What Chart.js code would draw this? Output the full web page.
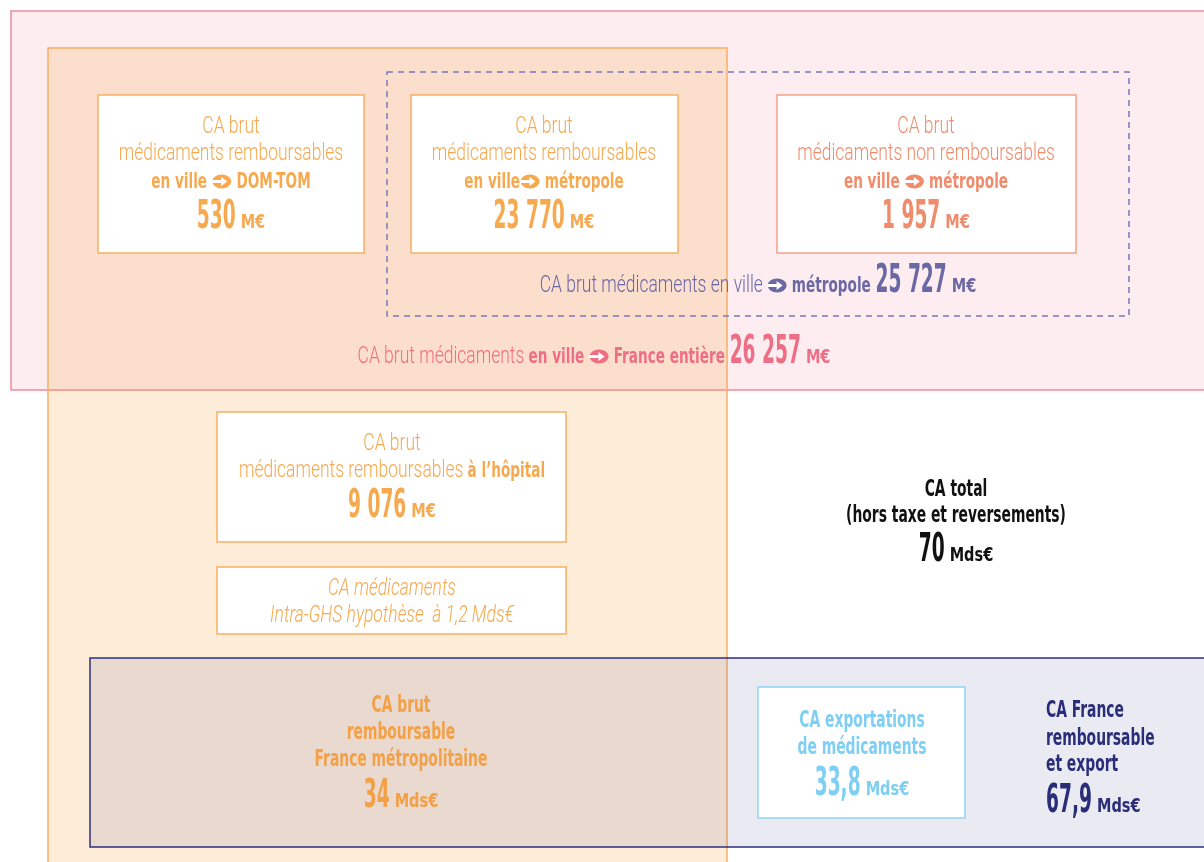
<!DOCTYPE html>
<html>
<head>
<meta charset="utf-8">
<script src="https://cdn.jsdelivr.net/npm/chart.js@4/dist/chart.umd.min.js"></script>
<style>
  html, body { margin: 0; padding: 0; background: #ffffff; }
  #wrap { width: 1204px; height: 862px; }
</style>
</head>
<body>
<div id="wrap"><canvas id="schema" width="1204" height="862"></canvas></div>
<script>
'use strict';

// Chiffres du schéma (CA médicaments)
const keys = ['domTom', 'villeMetro', 'nonRemb', 'villeMetroTotal', 'franceEntiere',
              'hopital', 'intraGhs', 'total', 'rembMetro', 'export', 'rembExport'];
const values = [530, 23770, 1957, 25727, 26257, 9076, 1.2, 70, 34, 33.8, 67.9];
const units = ['M€', 'M€', 'M€', 'M€', 'M€', 'M€', 'Mds€', 'Mds€', 'Mds€', 'Mds€', 'Mds€'];

const LIGHT = 'Roboto, "DejaVu Sans", sans-serif';
const COND = '"DejaVu Sans Condensed", "DejaVu Sans", sans-serif';
const styles = {
    L: { size: 23, weight: '300', sx: 0.76, family: LIGHT },
    I: { size: 23, weight: '300', sx: 0.76, italic: true, family: LIGHT },
    B: { size: 21, weight: '700', sx: 0.72, family: COND },
    T: { size: 23, weight: '700', sx: 0.67, family: COND },
    N: { size: 39, weight: '700', sx: 0.53, family: COND },
    U: { size: 19, weight: '700', sx: 0.85, family: COND }
};

const C = {
    orange: '#f6a94f',
    salmon: '#f08b6b',
    purple: '#6b68a6',
    pink: '#ee6e85',
    navy: '#2a2d78',
    blue: '#7ecff3',
    black: '#111111'
};

// zones et cadres, en coordonnées des axes (0..1204, 0..862)
const regions = [
    { x0: 11, y0: 11, x1: 1210, y1: 390, fill: 'rgba(240,130,150,0.14)', stroke: '#f08a9c', lw: 1.5 },
    { x0: 48, y0: 48, x1: 727, y1: 870, fill: 'rgba(247,160,60,0.2)', stroke: '#f5b064', lw: 1.5 },
    { x0: 90, y0: 658, x1: 1210, y1: 847, fill: 'rgba(50,50,130,0.1)', stroke: '#2c2f7c', lw: 1.5 },
    { x0: 387, y0: 72, x1: 1129, y1: 316, fill: null, stroke: '#7a78b8', lw: 1.5, dash: [6, 5] },
    { x0: 98, y0: 95, x1: 364, y1: 253, fill: '#ffffff', stroke: '#f6b061', lw: 1.5 },
    { x0: 411, y0: 95, x1: 678, y1: 253, fill: '#ffffff', stroke: '#f6b061', lw: 1.5 },
    { x0: 777, y0: 95, x1: 1076, y1: 253, fill: '#ffffff', stroke: '#f4a286', lw: 1.5 },
    { x0: 217, y0: 412, x1: 566, y1: 542, fill: '#ffffff', stroke: '#f6b061', lw: 1.5 },
    { x0: 217, y0: 567, x1: 566, y1: 634, fill: '#ffffff', stroke: '#f6b061', lw: 1.5 },
    { x0: 758, y0: 687, x1: 965, y1: 818, fill: '#ffffff', stroke: '#8ed5f5', lw: 1.5 }
];

function val(key) {
    return { v: keys.indexOf(key) };
}

// lignes de texte : x, y (ligne de base), alignement, couleur, segments
const rows = [
    { x: 231, y: 133, color: C.orange, segs: [['L', 'CA brut']] },
    { x: 231, y: 160, color: C.orange, segs: [['L', 'médicaments remboursables']] },
    { x: 231, y: 188, color: C.orange, segs: [['B', 'en ville ➲ DOM-TOM']] },
    { x: 231, y: 228, color: C.orange, segs: [val('domTom')] },

    { x: 544, y: 133, color: C.orange, segs: [['L', 'CA brut']] },
    { x: 544, y: 160, color: C.orange, segs: [['L', 'médicaments remboursables']] },
    { x: 544, y: 188, color: C.orange, segs: [['B', 'en ville➲ métropole']] },
    { x: 544, y: 228, color: C.orange, segs: [val('villeMetro')] },

    { x: 926, y: 133, color: C.salmon, segs: [['L', 'CA brut']] },
    { x: 926, y: 160, color: C.salmon, segs: [['L', 'médicaments non remboursables']] },
    { x: 926, y: 188, color: C.salmon, segs: [['B', 'en ville ➲ métropole']] },
    { x: 926, y: 228, color: C.salmon, segs: [val('nonRemb')] },

    { x: 758, y: 292, color: C.purple, segs: [['L', 'CA brut médicaments en ville '], ['B', '➲ métropole '], val('villeMetroTotal')] },
    { x: 594, y: 363, color: C.pink, segs: [['L', 'CA brut médicaments '], ['B', 'en ville ➲ France entière '], val('franceEntiere')] },

    { x: 392, y: 450, color: C.orange, segs: [['L', 'CA brut']] },
    { x: 392, y: 477, color: C.orange, segs: [['L', 'médicaments remboursables '], ['B', 'à l’hôpital']] },
    { x: 392, y: 517, color: C.orange, segs: [val('hopital')] },

    { x: 392, y: 595, color: C.orange, segs: [['I', 'CA médicaments']] },
    { x: 392, y: 622, color: C.orange, segs: [['I', 'Intra-GHS hypothèse  à 1,2 Mds€']] },

    { x: 956, y: 496, color: C.black, segs: [['T', 'CA total']] },
    { x: 956, y: 522, color: C.black, segs: [['T', '(hors taxe et reversements)']] },
    { x: 956, y: 561, color: C.black, segs: [val('total')] },

    { x: 401, y: 712, color: '#f3a046', segs: [['T', 'CA brut']] },
    { x: 401, y: 739, color: '#f3a046', segs: [['T', 'remboursable']] },
    { x: 401, y: 766, color: '#f3a046', segs: [['T', 'France métropolitaine']] },
    { x: 401, y: 807, color: '#f3a046', segs: [val('rembMetro')] },

    { x: 862, y: 727, color: C.blue, segs: [['T', 'CA exportations']] },
    { x: 862, y: 754, color: C.blue, segs: [['T', 'de médicaments']] },
    { x: 862, y: 795, color: C.blue, segs: [val('export')] },

    { x: 1046, y: 717, align: 'left', color: C.navy, segs: [['T', 'CA France']] },
    { x: 1046, y: 745, align: 'left', color: C.navy, segs: [['T', 'remboursable']] },
    { x: 1046, y: 771, align: 'left', color: C.navy, segs: [['T', 'et export']] },
    { x: 1046, y: 812, align: 'left', color: C.navy, segs: [val('rembExport')] }
];

function fmt(v) {
    if (Number.isInteger(v)) {
        return String(v).replace(/\B(?=(\d{3})+(?!\d))/g, ' ');
    }
    return String(v).replace('.', ',');
}

function fontOf(st) {
    return (st.italic ? 'italic ' : '') + st.weight + ' ' + st.size + 'px ' + st.family;
}

// découpe les segments, la flèche ➲ est dessinée comme un pictogramme
function expand(segs) {
    const out = [];
    segs.forEach(function(s) {
        if (Array.isArray(s)) {
            const pieces = s[1].split('➲');
            pieces.forEach(function(p, i) {
                if (i > 0) out.push({ arrow: true, w: 20 });
                if (p) out.push({ st: styles[s[0]], t: p });
            });
        } else {
            out.push({ st: styles.N, t: fmt(values[s.v]) });
            out.push({ st: styles.U, t: ' ' + units[s.v] });
        }
    });
    return out;
}

function drawArrow(ctx, x, y, color) {
    const cx = x + 10, cy = y - 6.5;
    ctx.save();
    ctx.fillStyle = color;
    ctx.beginPath();
    ctx.ellipse(cx, cy, 9.5, 7, 0, 0, Math.PI * 2);
    ctx.fill();
    ctx.fillStyle = '#ffffff';
    ctx.fillRect(cx - 10, cy - 1.5, 10.5, 3);
    ctx.beginPath();
    ctx.moveTo(cx - 0.5, cy - 4.5);
    ctx.lineTo(cx + 5.5, cy);
    ctx.lineTo(cx - 0.5, cy + 4.5);
    ctx.closePath();
    ctx.fill();
    ctx.restore();
}

const schemaPlugin = {
    id: 'schema',
    afterDraw: function(chart) {
        const ctx = chart.ctx;
        const xs = chart.scales.x;
        const ys = chart.scales.y;

        regions.forEach(function(r) {
            const x0 = xs.getPixelForValue(r.x0), x1 = xs.getPixelForValue(r.x1);
            const y0 = ys.getPixelForValue(r.y0), y1 = ys.getPixelForValue(r.y1);
            ctx.save();
            if (r.fill) {
                ctx.fillStyle = r.fill;
                ctx.fillRect(x0, y0, x1 - x0, y1 - y0);
            }
            ctx.strokeStyle = r.stroke;
            ctx.lineWidth = r.lw;
            ctx.setLineDash(r.dash || []);
            ctx.strokeRect(x0, y0, x1 - x0, y1 - y0);
            ctx.restore();
        });

        rows.forEach(function(row) {
            const parts = expand(row.segs);
            let total = 0;
            parts.forEach(function(p) {
                if (!p.arrow) {
                    ctx.font = fontOf(p.st);
                    p.w = ctx.measureText(p.t).width * p.st.sx;
                }
                total += p.w;
            });
            let x = xs.getPixelForValue(row.x);
            if (row.align !== 'left') x -= total / 2;
            const y = ys.getPixelForValue(row.y);
            parts.forEach(function(p) {
                if (p.arrow) {
                    drawArrow(ctx, x, y, row.color);
                } else {
                    ctx.save();
                    ctx.font = fontOf(p.st);
                    ctx.fillStyle = row.color;
                    ctx.textBaseline = 'alphabetic';
                    ctx.textAlign = 'left';
                    ctx.translate(x, y);
                    ctx.scale(p.st.sx, 1);
                    ctx.fillText(p.t, 0, 0);
                    ctx.restore();
                }
                x += p.w;
            });
        });
    }
};

document.addEventListener('DOMContentLoaded', function() {
    if (typeof Chart === 'undefined') {
        console.error('Chart.js is not loaded!');
        return;
    }
    const ctx = document.getElementById('schema').getContext('2d');
    new Chart(ctx, {
        type: 'scatter',
        data: { datasets: [{ data: [] }] },
        options: {
            responsive: false,
            animation: false,
            devicePixelRatio: 1,
            layout: { padding: 0 },
            scales: {
                x: { type: 'linear', min: 0, max: 1204, display: false },
                y: { type: 'linear', min: 0, max: 862, reverse: true, display: false }
            },
            plugins: {
                legend: { display: false },
                tooltip: { enabled: false }
            }
        },
        plugins: [schemaPlugin]
    });
});
</script>
</body>
</html>
